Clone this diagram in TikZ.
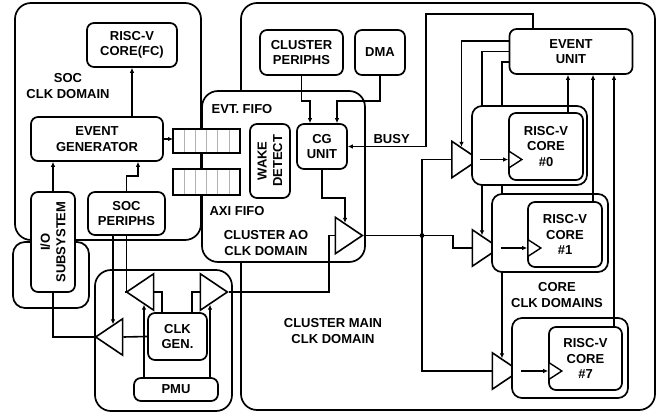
\documentclass[tikz,border=0pt]{standalone}
\usepackage{fontspec}
\setmainfont{Liberation Sans}
\usetikzlibrary{shapes.geometric, arrows.meta, positioning, calc}

\tikzset{
    dom/.style={draw, rounded corners=16pt, fill=white, line width=1.7pt, inner sep=0pt},
    blk/.style={draw, rounded corners=7pt, fill=white, line width=1.7pt, align=center, inner sep=0pt},
    buf/.style={draw, isosceles triangle, isosceles triangle apex angle=68, minimum width=20pt, minimum height=27pt, inner sep=0pt, fill=white, line width=1.6pt},
    ckt/.style={draw, isosceles triangle, isosceles triangle apex angle=66, minimum width=10pt, minimum height=13pt, inner sep=0pt, fill=white, line width=1.4pt},
    fifo/.style={draw, fill=white, line width=1.7pt, minimum width=67pt, inner sep=0pt, outer sep=0pt},
    lbl/.style={align=center, inner sep=0pt},
    wire/.style={line width=1.6pt},
    arr/.style={line width=1.6pt, -{Latex[length=5pt,width=4.5pt]}},
}

\begin{document}
\begin{tikzpicture}[x=1pt, y=-1pt, font=\fontsize{13}{15.5}\selectfont\bfseries]
\useasboundingbox (0,0) rectangle (672,414);

% clock domains
\node[dom, minimum width=414pt, minimum height=407pt] (maindom) at (448,206.5) {};
\node[dom, minimum width=163pt, minimum height=171pt] (aodom) at (283.5,176.5) {};
\node[dom, minimum width=186pt, minimum height=237pt] (socdom) at (108,121.5) {};
\node[dom, rounded corners=12pt, minimum width=76pt, minimum height=66pt] (iodom) at (51,275) {};
\node[dom, minimum width=137pt, minimum height=141pt] (clkdom) at (163.5,340.5) {};

% soc side
\node[blk, minimum width=90pt, minimum height=44pt] (fc) at (132,45) {RISC-V\\CORE(FC)};
\node[blk, minimum width=132pt, minimum height=44pt] (eg) at (97,139) {EVENT\\GENERATOR};
\node[blk, rotate=90, minimum width=100pt, minimum height=44pt] (io) at (53,242) {I/O\\SUBSYSTEM};
\node[blk, minimum width=77pt, minimum height=43pt] (socp) at (126.5,213.5) {SOC\\PERIPHS};
\node[lbl] (soclbl) at (68,86) {SOC\\CLK DOMAIN};

% fifos
\node[fifo, minimum height=24pt] (evtfifo) at (206.5,141) {};
\node[fifo, minimum height=26pt] (axififo) at (206.5,182) {};
\foreach \f in {evtfifo,axififo}
    \foreach \i in {1,...,5}
        \draw[gray!60, line width=0.6pt, shorten <=0.85pt, shorten >=0.85pt]
            ([xshift=\i*11.17pt]\f.north west) -- ([xshift=\i*11.17pt]\f.south west);

% cluster ao
\node[lbl] (evtlbl) at (242,109) {EVT. FIFO};
\node[lbl] (axilbl) at (237,211) {AXI FIFO};
\node[lbl] (aolbl) at (266,243) {CLUSTER AO\\CLK DOMAIN};
\node[lbl] (mainlbl) at (333,331) {CLUSTER MAIN\\CLK DOMAIN};
\node[blk, rotate=90, minimum width=74pt, minimum height=40pt] (wake) at (270,161) {WAKE\\DETECT};
\node[blk, minimum width=50pt, minimum height=45pt] (cg) at (322,146.5) {CG\\UNIT};
\node[blk, minimum width=83pt, minimum height=45pt] (clp) at (301.5,52.5) {CLUSTER\\PERIPHS};
\node[blk, minimum width=50pt, minimum height=45pt] (dma) at (380,52.5) {DMA};
\node[blk, minimum width=123pt, minimum height=45pt] (eu) at (571,51.5) {EVENT\\UNIT};

% buffers
\node[buf] (bao) at (345,235.5) {};
\node[buf] (bc0) at (461.5,159.5) {};
\node[buf] (bc1) at (482,248) {};
\node[buf] (bc7) at (502,371) {};

% wires running under the core domains
\draw[arr] (eu.west) -| (bc1.north);
\draw[arr] ([yshift=-10.5pt]eu.west) -| (bc7.north);

% core domains
\node[dom, rounded corners=10pt, minimum width=115pt, minimum height=79pt] (c0dom) at (529.5,145.5) {};
\node[dom, rounded corners=10pt, minimum width=116pt, minimum height=78pt] (c1dom) at (550,233) {};
\node[dom, rounded corners=10pt, minimum width=116pt, minimum height=80pt] (c7dom) at (570,358) {};
\node[blk, minimum width=74pt, minimum height=67pt] (core0) at (546,146.5) {RISC-V\\CORE\\\#0};
\node[blk, minimum width=74pt, minimum height=65pt] (core1) at (565,234.5) {RISC-V\\CORE\\\#1};
\node[blk, minimum width=73pt, minimum height=63pt] (core7) at (585.5,358.5) {RISC-V\\CORE\\\#7};
\node[lbl] (corelbl) at (557,295) {CORE\\CLK DOMAINS};
\node[ckt, anchor=lower side] (ck0) at (core0.west |- bc0) {};
\node[ckt, anchor=lower side] (ck1) at (core1.west |- bc1) {};
\node[ckt, anchor=lower side] (ck7) at (core7.west |- bc7) {};

% core clocks
\coordinate (jn) at (422,235.5);
\draw[wire] (bao.apex) -- (jn) -- ++(31,0) |- (bc1.lower side);
\draw[wire] (bc0.lower side) -| (jn) |- (bc7.lower side);
\fill (jn) circle (2.4);
\draw[arr] (bc0.apex) -- (ck0.lower side);
\draw[arr] (bc1.apex) -- (ck1.lower side);
\draw[arr] (bc7.apex) -- (ck7.lower side);

% event unit
\draw[arr] ([yshift=10.5pt]eu.west) -| (bc0.north);
\path ($(core0.north)+(22,0)$) coordinate (u0)
      ($(core1.north)+(28,0)$) coordinate (u1)
      ($(core7.north)+(28.5,0)$) coordinate (u7);
\foreach \u in {u0,u1,u7}
    \draw[arr] (\u) -- (\u |- eu.south);
\coordinate (busyup) at (426,14);
\draw[arr] ([xshift=-38pt]eu.north) |- (busyup) |- (cg.east)
    node[pos=0.72, above, inner sep=2pt] {BUSY};
\draw[arr] (clp.south) -- ++(0,25) -| ([xshift=-12pt]cg.north);
\draw[arr] (dma.south) -- ++(0,25) -| ([xshift=15pt]cg.north);
\draw[arr] (cg.south) -- ++(0,28) -| (bao.north);

% clock generation
\node[buf, shape border rotate=180] (b1) at (144,292) {};
\node[buf] (b2) at (210,292) {};
\node[buf, shape border rotate=180] (b3) at (113,337) {};
\node[blk, minimum width=59pt, minimum height=47pt] (clkgen) at (177.5,336.5) {CLK\\GEN.};
\node[blk, minimum width=84pt, minimum height=23pt] (pmu) at (176,389.5) {PMU};
\draw[wire] (b2.apex) -- ++(100,0) |- (bao.lower side);

% soc wires
\draw[arr] (eg.north -| fc.south) -- (fc.south);
\draw[arr] (eg.east) -- (eg.east -| evtfifo.west);
\draw[arr] (io.east) -- (io.east |- eg.south);
\draw[arr] (socp.north) -- ++(0,-15) -| ([xshift=41pt]eg.south);
\draw[arr] (b3.north |- socp.south) -- (b3.north);
\draw[wire] (socp.south) |- (b1.apex);
\draw[wire] ([xshift=-15.5pt]clkgen.north) |- (b1.lower side);
\draw[wire] ([xshift=14.5pt]clkgen.north) |- (b2.lower side);
\draw[wire] (clkgen.west) -- (b3.lower side);
\draw[arr] (b1.south |- pmu.north) -- (b1.south);
\draw[arr] (b2.south |- pmu.north) -- (b2.south);
\draw[wire] (b3.apex) -| (io.west);
\end{tikzpicture}
\end{document}
